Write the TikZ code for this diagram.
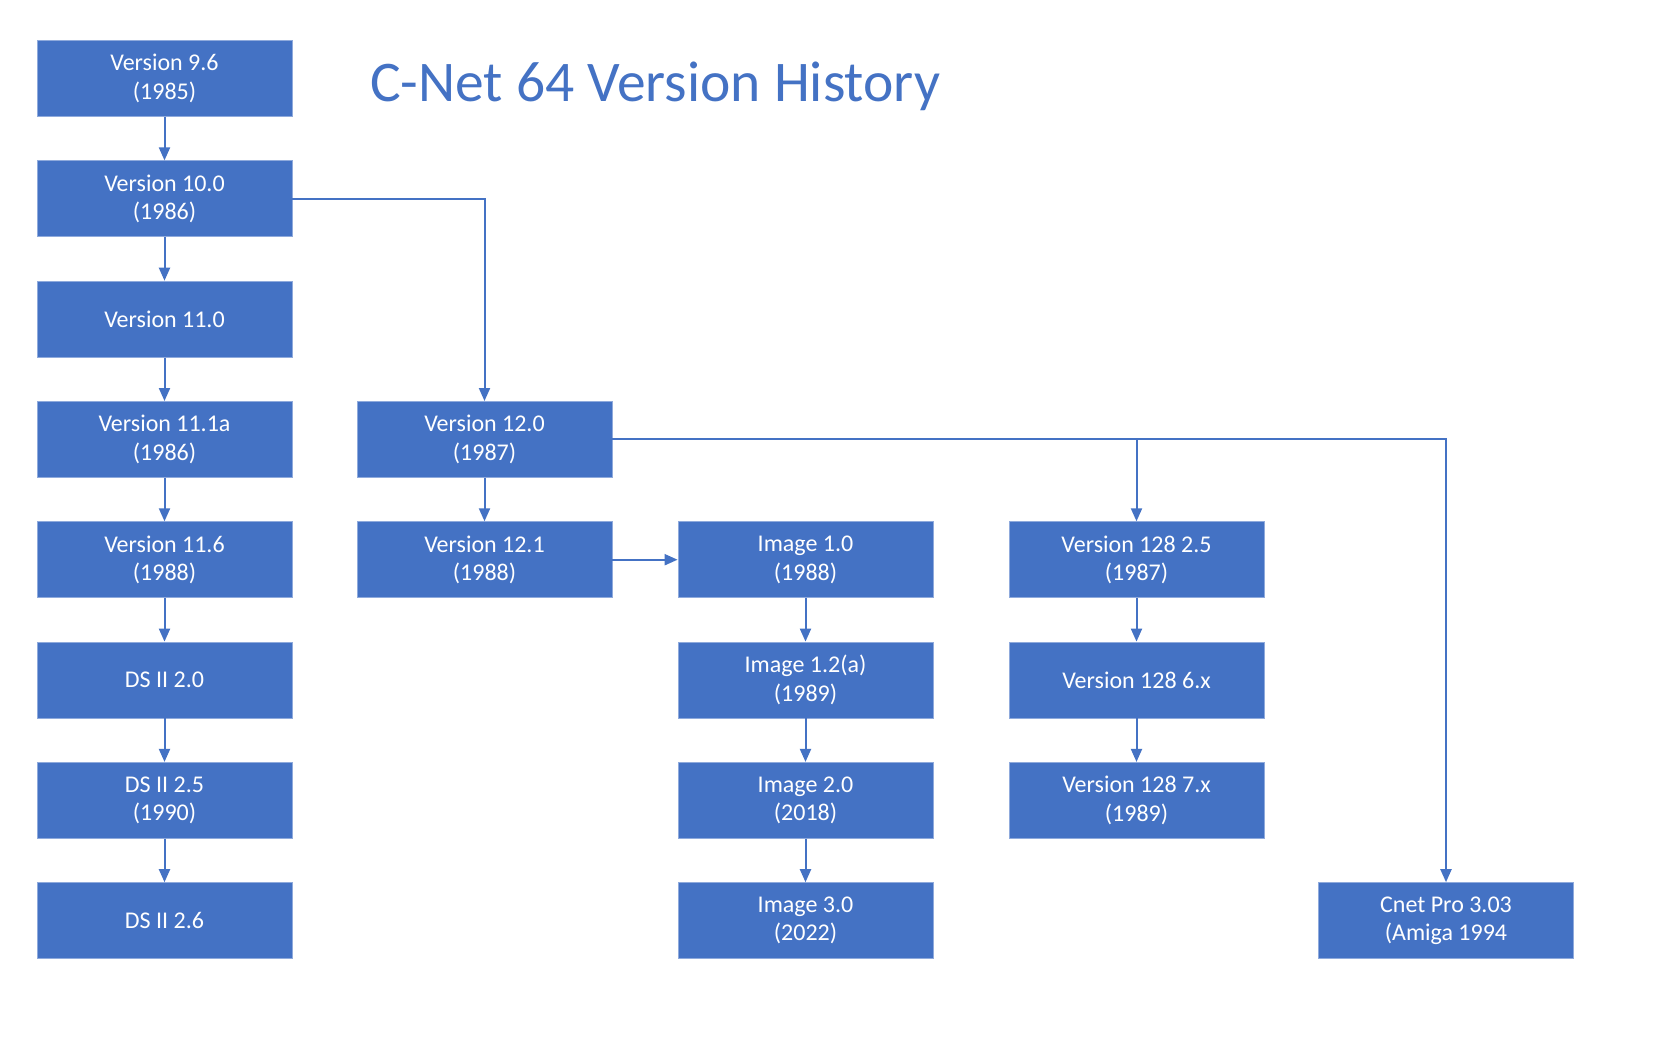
\documentclass[tikz,border=0pt]{standalone}
\usepackage{fontspec}
\setmainfont{Carlito}
\usetikzlibrary{arrows.meta}
\definecolor{offblue}{HTML}{4472C4}
\begin{document}
\begin{tikzpicture}[x=1pt,y=-1pt,
  vbox/.style={rectangle, fill=offblue, draw=offblue!60!white, line width=0.8pt,
    minimum width=255pt, minimum height=76pt, inner sep=0pt,
    text=white, font=\fontsize{24}{28.5}\selectfont, align=center},
  conn/.style={draw=offblue, line width=2pt, -{Triangle[length=13pt,width=11pt]}}]
\useasboundingbox (0,0) rectangle (1658,1063);
\fill[white] (0,0) rectangle (1658,1063);
\node[anchor=base west, text=offblue, font=\fontsize{57.5}{60}\selectfont, inner sep=0pt] (title) at (370,101) {C-Net 64 Version History};
% column 1
\node[vbox] (v96) at (164.5,78.5) {Version 9.6\\(1985)};
\node[vbox] (v100) at (164.5,198.8) {Version 10.0\\(1986)};
\node[vbox] (v110) at (164.5,319.1) {Version 11.0};
\node[vbox] (v111a) at (164.5,439.4) {Version 11.1a\\(1986)};
\node[vbox] (v116) at (164.5,559.7) {Version 11.6\\(1988)};
\node[vbox] (ds20) at (164.5,680) {DS II 2.0};
\node[vbox] (ds25) at (164.5,800.3) {DS II 2.5\\(1990)};
\node[vbox] (ds26) at (164.5,920.6) {DS II 2.6};
% column 2
\node[vbox] (v120) at (484.5,439.4) {Version 12.0\\(1987)};
\node[vbox] (v121) at (484.5,559.7) {Version 12.1\\(1988)};
% column 3
\node[vbox] (img10) at (805.5,559.7) {Image 1.0\\(1988)};
\node[vbox] (img12) at (805.5,680) {Image 1.2(a)\\(1989)};
\node[vbox] (img20) at (805.5,800.3) {Image 2.0\\(2018)};
\node[vbox] (img30) at (805.5,920.6) {Image 3.0\\(2022)};
% column 4
\node[vbox] (v12825) at (1136.5,559.7) {Version 128 2.5\\(1987)};
\node[vbox] (v1286) at (1136.5,680) {Version 128 6.x};
\node[vbox] (v1287) at (1136.5,800.3) {Version 128 7.x\\(1989)};
% column 5
\node[vbox] (cpro) at (1446,920.6) {Cnet Pro 3.03\\(Amiga 1994};
% connectors
\draw[conn] (v96) -- (v100);
\draw[conn] (v100) -- (v110);
\draw[conn] (v110) -- (v111a);
\draw[conn] (v111a) -- (v116);
\draw[conn] (v116) -- (ds20);
\draw[conn] (ds20) -- (ds25);
\draw[conn] (ds25) -- (ds26);
\draw[conn] (v100.east) -| (v120.north);
\draw[conn] (v120) -- (v121);
\draw[conn] (v121) -- (img10);
\draw[conn] (img10) -- (img12);
\draw[conn] (img12) -- (img20);
\draw[conn] (img20) -- (img30);
\draw[conn] (v120.east) -| (cpro.north);
\coordinate (br) at (v12825.north |- v120.east);
\draw[conn] (br) -- (v12825.north);
\draw[conn] (v12825) -- (v1286);
\draw[conn] (v1286) -- (v1287);
\end{tikzpicture}
\end{document}
